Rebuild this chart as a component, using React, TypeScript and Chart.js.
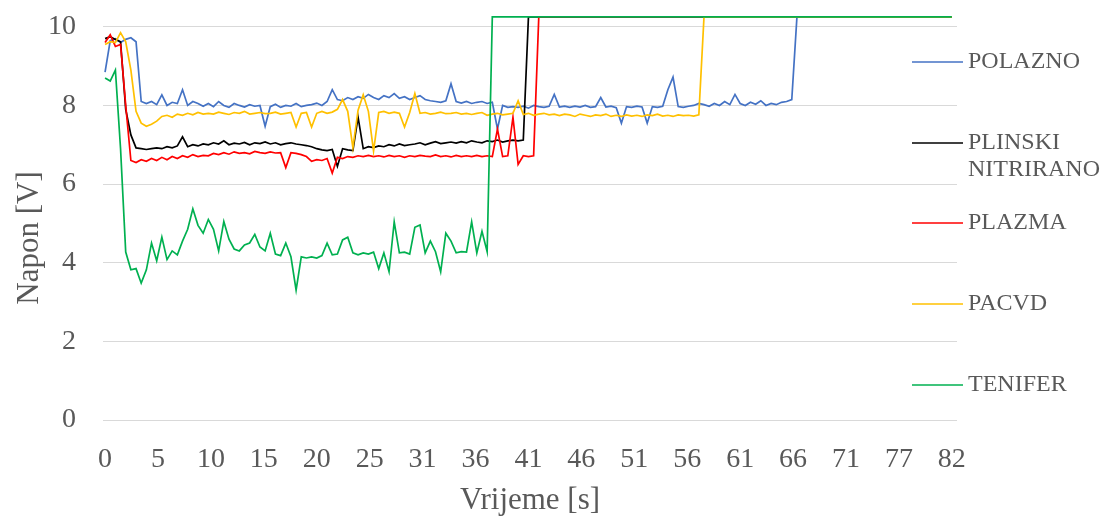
import React, { useEffect, useRef } from "react";
import { Chart, registerables } from "chart.js";
Chart.register(...registerables);

// Sample times [s]
const time = [
  0, 0.5, 1, 1.5, 2, 2.5, 3, 3.5, 4, 4.5,
  5, 5.5, 6, 6.5, 7, 7.5, 8, 8.5, 9, 9.5,
  10, 10.5, 11, 11.5, 12, 12.5, 13, 13.5, 14, 14.5,
  15, 15.5, 16, 16.5, 17, 17.5, 18, 18.5, 19, 19.5,
  20, 20.5, 21, 21.5, 22, 22.5, 23, 23.5, 24, 24.5,
  25, 25.5, 26, 26.5, 27, 27.5, 28, 28.5, 29, 29.5,
  30, 30.5, 31, 31.5, 32, 32.5, 33, 33.5, 34, 34.5,
  35, 35.5, 36, 36.5, 37, 37.5, 38, 38.5, 39, 39.5,
  40, 40.5, 41, 41.5, 42, 42.5, 43, 43.5, 44, 44.5,
  45, 45.5, 46, 46.5, 47, 47.5, 48, 48.5, 49, 49.5,
  50, 50.5, 51, 51.5, 52, 52.5, 53, 53.5, 54, 54.5,
  55, 55.5, 56, 56.5, 57, 57.5, 58, 58.5, 59, 59.5,
  60, 60.5, 61, 61.5, 62, 62.5, 63, 63.5, 64, 64.5,
  65, 65.5, 66, 66.5, 67, 67.5, 68, 68.5, 69, 69.5,
  70, 70.5, 71, 71.5, 72, 72.5, 73, 73.5, 74, 74.5,
  75, 75.5, 76, 76.5, 77, 77.5, 78, 78.5, 79, 79.5,
  80, 80.5, 81, 81.5, 82,
];

const polazno = [
  8.85, 9.65, 9.7, 9.6, 9.68, 9.72, 9.62, 8.1, 8.05, 8.1,
  8.02, 8.27, 8.0, 8.08, 8.05, 8.4, 8.0, 8.1, 8.05, 7.98,
  8.05, 7.97, 8.1, 8.0, 7.95, 8.05, 8.0, 7.96, 8.02, 7.98,
  8.0, 7.47, 7.97, 8.03, 7.95, 8.0, 7.98, 8.05, 7.97, 8.0,
  8.02, 8.06, 8.0, 8.1, 8.4, 8.15, 8.12, 8.2, 8.15, 8.22,
  8.18, 8.28, 8.2, 8.15, 8.25, 8.2, 8.3, 8.18, 8.22, 8.15,
  8.2, 8.25, 8.15, 8.12, 8.1, 8.08, 8.12, 8.55, 8.1, 8.06,
  8.1, 8.05, 8.08, 8.1, 8.05, 8.08, 7.4, 8.0, 7.95, 7.97,
  7.95, 7.98, 7.93, 8.0, 7.97, 7.95, 7.98, 8.28, 7.96, 7.98,
  7.95, 7.98, 7.96, 8.0, 7.95, 7.97, 8.2, 7.96, 7.98, 7.94,
  7.55, 7.97, 7.95, 7.98, 7.96, 7.55, 7.97, 7.95, 7.98, 8.4,
  8.72, 7.97, 7.95, 7.98, 8.0, 8.05, 8.02, 7.98, 8.05, 8.0,
  8.1, 8.02, 8.28, 8.05, 8.0, 8.08, 8.03, 8.12, 8.0, 8.05,
  8.02, 8.08, 8.1, 8.15, 10.25, 10.25, 10.25, 10.25, 10.25, 10.25,
  10.25, 10.25, 10.25, 10.25, 10.25, 10.25, 10.25, 10.25, 10.25, 10.25,
  10.25, 10.25, 10.25, 10.25, 10.25, 10.25, 10.25, 10.25, 10.25, 10.25,
  10.25, 10.25, 10.25, 10.25, 10.25,
];

const plinski = [
  9.7, 9.75, 9.68, 9.62, 7.9, 7.25, 6.92, 6.9, 6.88, 6.9,
  6.92, 6.9, 6.95, 6.92, 6.97, 7.2, 6.95, 7.0, 6.97, 7.02,
  7.0, 7.05, 7.02, 7.1, 7.0, 7.04, 7.02, 7.06, 7.0, 7.05,
  7.03, 7.07, 7.02, 7.05, 7.0, 7.03, 7.05, 7.02, 7.0, 6.98,
  6.95, 6.9, 6.87, 6.85, 6.88, 6.45, 6.9, 6.87, 6.85, 7.7,
  6.9, 6.95, 6.93, 6.97, 6.95, 7.0, 6.97, 7.02, 6.98, 7.0,
  7.02, 7.05, 7.0, 7.04, 7.08, 7.03, 7.05, 7.07, 7.04, 7.08,
  7.05, 7.1, 7.07, 7.05, 7.1, 7.08, 7.12, 7.07, 7.1, 7.12,
  7.1, 7.12, 10.25, 10.25, 10.25, 10.25, 10.25, 10.25, 10.25, 10.25,
  10.25, 10.25, 10.25, 10.25, 10.25, 10.25, 10.25, 10.25, 10.25, 10.25,
  10.25, 10.25, 10.25, 10.25, 10.25, 10.25, 10.25, 10.25, 10.25, 10.25,
  10.25, 10.25, 10.25, 10.25, 10.25, 10.25, 10.25, 10.25, 10.25, 10.25,
  10.25, 10.25, 10.25, 10.25, 10.25, 10.25, 10.25, 10.25, 10.25, 10.25,
  10.25, 10.25, 10.25, 10.25, 10.25, 10.25, 10.25, 10.25, 10.25, 10.25,
  10.25, 10.25, 10.25, 10.25, 10.25, 10.25, 10.25, 10.25, 10.25, 10.25,
  10.25, 10.25, 10.25, 10.25, 10.25, 10.25, 10.25, 10.25, 10.25, 10.25,
  10.25, 10.25, 10.25, 10.25, 10.25,
];

const plazma = [
  9.6, 9.8, 9.5, 9.55, 8.0, 6.6, 6.55, 6.62, 6.58, 6.65,
  6.6, 6.68, 6.62, 6.7, 6.65, 6.72, 6.68, 6.75, 6.7, 6.73,
  6.72, 6.78, 6.75, 6.8, 6.76, 6.82, 6.78, 6.8, 6.77, 6.83,
  6.8, 6.78, 6.82, 6.79, 6.8, 6.42, 6.8, 6.78, 6.75, 6.7,
  6.58, 6.62, 6.6, 6.65, 6.28, 6.68, 6.65, 6.7, 6.68, 6.72,
  6.7, 6.73, 6.7, 6.72, 6.69, 6.73, 6.7, 6.72, 6.68, 6.72,
  6.7, 6.73, 6.71, 6.7, 6.74, 6.7, 6.72, 6.69, 6.73, 6.7,
  6.72, 6.7, 6.73, 6.7, 6.72, 6.7, 7.4, 6.7, 6.72, 7.7,
  6.5, 6.72, 6.7, 6.72, 10.25, 10.25, 10.25, 10.25, 10.25, 10.25,
  10.25, 10.25, 10.25, 10.25, 10.25, 10.25, 10.25, 10.25, 10.25, 10.25,
  10.25, 10.25, 10.25, 10.25, 10.25, 10.25, 10.25, 10.25, 10.25, 10.25,
  10.25, 10.25, 10.25, 10.25, 10.25, 10.25, 10.25, 10.25, 10.25, 10.25,
  10.25, 10.25, 10.25, 10.25, 10.25, 10.25, 10.25, 10.25, 10.25, 10.25,
  10.25, 10.25, 10.25, 10.25, 10.25, 10.25, 10.25, 10.25, 10.25, 10.25,
  10.25, 10.25, 10.25, 10.25, 10.25, 10.25, 10.25, 10.25, 10.25, 10.25,
  10.25, 10.25, 10.25, 10.25, 10.25, 10.25, 10.25, 10.25, 10.25, 10.25,
  10.25, 10.25, 10.25, 10.25, 10.25,
];

const pacvd = [
  9.55, 9.62, 9.6, 9.85, 9.62, 8.9, 7.85, 7.55, 7.47, 7.52,
  7.6, 7.72, 7.75, 7.7, 7.78, 7.75, 7.8, 7.76, 7.82, 7.78,
  7.8, 7.78, 7.83, 7.8, 7.77, 7.82, 7.8, 7.85, 7.78, 7.8,
  7.82, 7.79, 7.8, 7.83, 7.78, 7.8, 7.82, 7.45, 7.8, 7.82,
  7.45, 7.8, 7.85, 7.8, 7.83, 7.9, 8.15, 7.85, 6.92, 7.88,
  8.27, 7.85, 6.84, 7.82, 7.85, 7.8, 7.83, 7.8, 7.45, 7.82,
  8.3, 7.8, 7.82, 7.78, 7.8, 7.83, 7.79, 7.8, 7.82, 7.78,
  7.8, 7.77, 7.8, 7.82, 7.75, 7.78, 7.8, 7.76, 7.78, 7.8,
  8.12, 7.77, 7.8, 7.75, 7.78, 7.8, 7.76, 7.78, 7.74, 7.78,
  7.76, 7.72, 7.78, 7.75, 7.72, 7.76, 7.74, 7.78, 7.72, 7.75,
  7.72, 7.76, 7.73, 7.75, 7.72, 7.76, 7.74, 7.78, 7.73, 7.75,
  7.72, 7.76, 7.74, 7.75, 7.73, 7.76, 10.25, 10.25, 10.25, 10.25,
  10.25, 10.25, 10.25, 10.25, 10.25, 10.25, 10.25, 10.25, 10.25, 10.25,
  10.25, 10.25, 10.25, 10.25, 10.25, 10.25, 10.25, 10.25, 10.25, 10.25,
  10.25, 10.25, 10.25, 10.25, 10.25, 10.25, 10.25, 10.25, 10.25, 10.25,
  10.25, 10.25, 10.25, 10.25, 10.25, 10.25, 10.25, 10.25, 10.25, 10.25,
  10.25, 10.25, 10.25, 10.25, 10.25,
];

const tenifer = [
  8.7, 8.62, 8.9, 6.9, 4.27, 3.82, 3.85, 3.48, 3.82, 4.5,
  4.05, 4.65, 4.08, 4.3, 4.2, 4.55, 4.85, 5.37, 4.95, 4.75,
  5.1, 4.85, 4.3, 5.05, 4.6, 4.35, 4.3, 4.45, 4.5, 4.72,
  4.4, 4.3, 4.75, 4.22, 4.18, 4.5, 4.15, 3.3, 4.15, 4.12,
  4.15, 4.12, 4.18, 4.5, 4.2, 4.22, 4.58, 4.65, 4.25, 4.2,
  4.25, 4.22, 4.27, 3.85, 4.25, 3.77, 5.04, 4.25, 4.27, 4.22,
  4.9, 4.96, 4.25, 4.55, 4.28, 3.77, 4.75, 4.55, 4.25, 4.28,
  4.27, 5.04, 4.25, 4.8, 4.28, 10.25, 10.25, 10.25, 10.25, 10.25,
  10.25, 10.25, 10.25, 10.25, 10.25, 10.25, 10.25, 10.25, 10.25, 10.25,
  10.25, 10.25, 10.25, 10.25, 10.25, 10.25, 10.25, 10.25, 10.25, 10.25,
  10.25, 10.25, 10.25, 10.25, 10.25, 10.25, 10.25, 10.25, 10.25, 10.25,
  10.25, 10.25, 10.25, 10.25, 10.25, 10.25, 10.25, 10.25, 10.25, 10.25,
  10.25, 10.25, 10.25, 10.25, 10.25, 10.25, 10.25, 10.25, 10.25, 10.25,
  10.25, 10.25, 10.25, 10.25, 10.25, 10.25, 10.25, 10.25, 10.25, 10.25,
  10.25, 10.25, 10.25, 10.25, 10.25, 10.25, 10.25, 10.25, 10.25, 10.25,
  10.25, 10.25, 10.25, 10.25, 10.25, 10.25, 10.25, 10.25, 10.25, 10.25,
  10.25, 10.25, 10.25, 10.25, 10.25,
];

const seriesNames = ["POLAZNO", "PLINSKI NITRIRANO", "PLAZMA", "PACVD", "TENIFER"];
const seriesValues = [polazno, plinski, plazma, pacvd, tenifer];
const seriesColors = ["#4472C4", "#000000", "#FF0000", "#FFC000", "#00B050"];

const xTickValues = [0, 5.125, 10.25, 15.375, 20.5, 25.625, 30.75, 35.875, 41, 46.125, 51.25, 56.375, 61.5, 66.625, 71.75, 76.875, 82];
const xTickLabels = ["0", "5", "10", "15", "20", "25", "31", "36", "41", "46", "51", "56", "61", "66", "71", "77", "82"];
const yTickValues = [0, 2, 4, 6, 8, 10];

const xTitle = "Vrijeme [s]";
const yTitle = "Napon [V]";

const FONT = "'Liberation Serif', 'Times New Roman', serif";
const TEXT = "#595959";

// legend rows: label lines split for wrapping
const legendLines = [["POLAZNO"], ["PLINSKI", "NITRIRANO"], ["PLAZMA"], ["PACVD"], ["TENIFER"]];
const legendRowY = [62, 143, 223, 304, 385];

const overlayPlugin = {
  id: "overlay",
  afterDraw(chart: any) {
    const ctx = chart.ctx;
    ctx.save();
    // y axis title
    ctx.fillStyle = TEXT;
    ctx.font = `31px ${FONT}`;
    ctx.textAlign = "center";
    ctx.textBaseline = "middle";
    ctx.translate(30, 238);
    ctx.rotate(-Math.PI / 2);
    ctx.fillText(yTitle, 0, 0);
    ctx.restore();

    // legend
    ctx.save();
    ctx.font = `24px ${FONT}`;
    ctx.textAlign = "left";
    ctx.textBaseline = "middle";
    legendLines.forEach((lines, i) => {
      const y = legendRowY[i];
      ctx.strokeStyle = seriesColors[i];
      ctx.lineWidth = 1.5;
      ctx.beginPath();
      ctx.moveTo(912, y);
      ctx.lineTo(963, y);
      ctx.stroke();
      ctx.fillStyle = TEXT;
      lines.forEach((t, j) => ctx.fillText(t, 968, y + j * 27));
    });
    ctx.restore();
  },
};

export default function App() {
  const ref = useRef<HTMLCanvasElement>(null);
  useEffect(() => {
    document.body.style.margin = "0";
    const canvas = ref.current!;
    const datasets = seriesValues.map((vals, k) => ({
      label: seriesNames[k],
      data: vals.map((v, i) => ({ x: time[i], y: v })),
      borderColor: seriesColors[k],
      backgroundColor: seriesColors[k],
      borderWidth: 1.7,
      pointRadius: 0,
      tension: 0,
      fill: false,
      order: seriesValues.length - 1 - k,
    }));
    const chart = new Chart(canvas, {
      type: "line",
      data: { datasets },
      options: {
        responsive: false,
        animation: false,
        layout: { autoPadding: false, padding: { left: 0, right: 149, top: 15, bottom: 0 } },
        plugins: { legend: { display: false }, tooltip: { enabled: false } },
        scales: {
          x: {
            type: "linear",
            min: -0.2,
            max: 82.5,
            afterBuildTicks: (s: any) => {
              s.ticks = xTickValues.map((v) => ({ value: v }));
            },
            afterFit: (s: any) => {
              s.height = 100;
              s.paddingLeft = 0;
              s.paddingRight = 0;
            },
            grid: { display: false, drawTicks: false },
            border: { display: false },
            ticks: {
              autoSkip: false,
              maxRotation: 0,
              padding: 23,
              color: TEXT,
              font: { family: FONT, size: 28 },
              callback: (_v: any, i: number) => xTickLabels[i],
            },
            title: {
              display: true,
              text: xTitle,
              color: TEXT,
              font: { family: FONT, size: 31 },
              padding: { top: 0, bottom: 1 },
            },
          },
          y: {
            min: 0,
            max: 10.3,
            afterBuildTicks: (s: any) => {
              s.ticks = yTickValues.map((v) => ({ value: v }));
            },
            afterFit: (s: any) => {
              s.width = 103;
              s.paddingTop = 0;
              s.paddingBottom = 0;
            },
            grid: { color: "#D9D9D9", lineWidth: 1, drawTicks: false },
            border: { display: false },
            ticks: {
              padding: 27,
              color: TEXT,
              font: { family: FONT, size: 28 },
              callback: (v: any) => String(v),
            },
          },
        },
      },
      plugins: [overlayPlugin],
    } as any);
    return () => chart.destroy();
  }, []);
  return <canvas ref={ref} width={1106} height={520} style={{ display: "block" }} />;
}
